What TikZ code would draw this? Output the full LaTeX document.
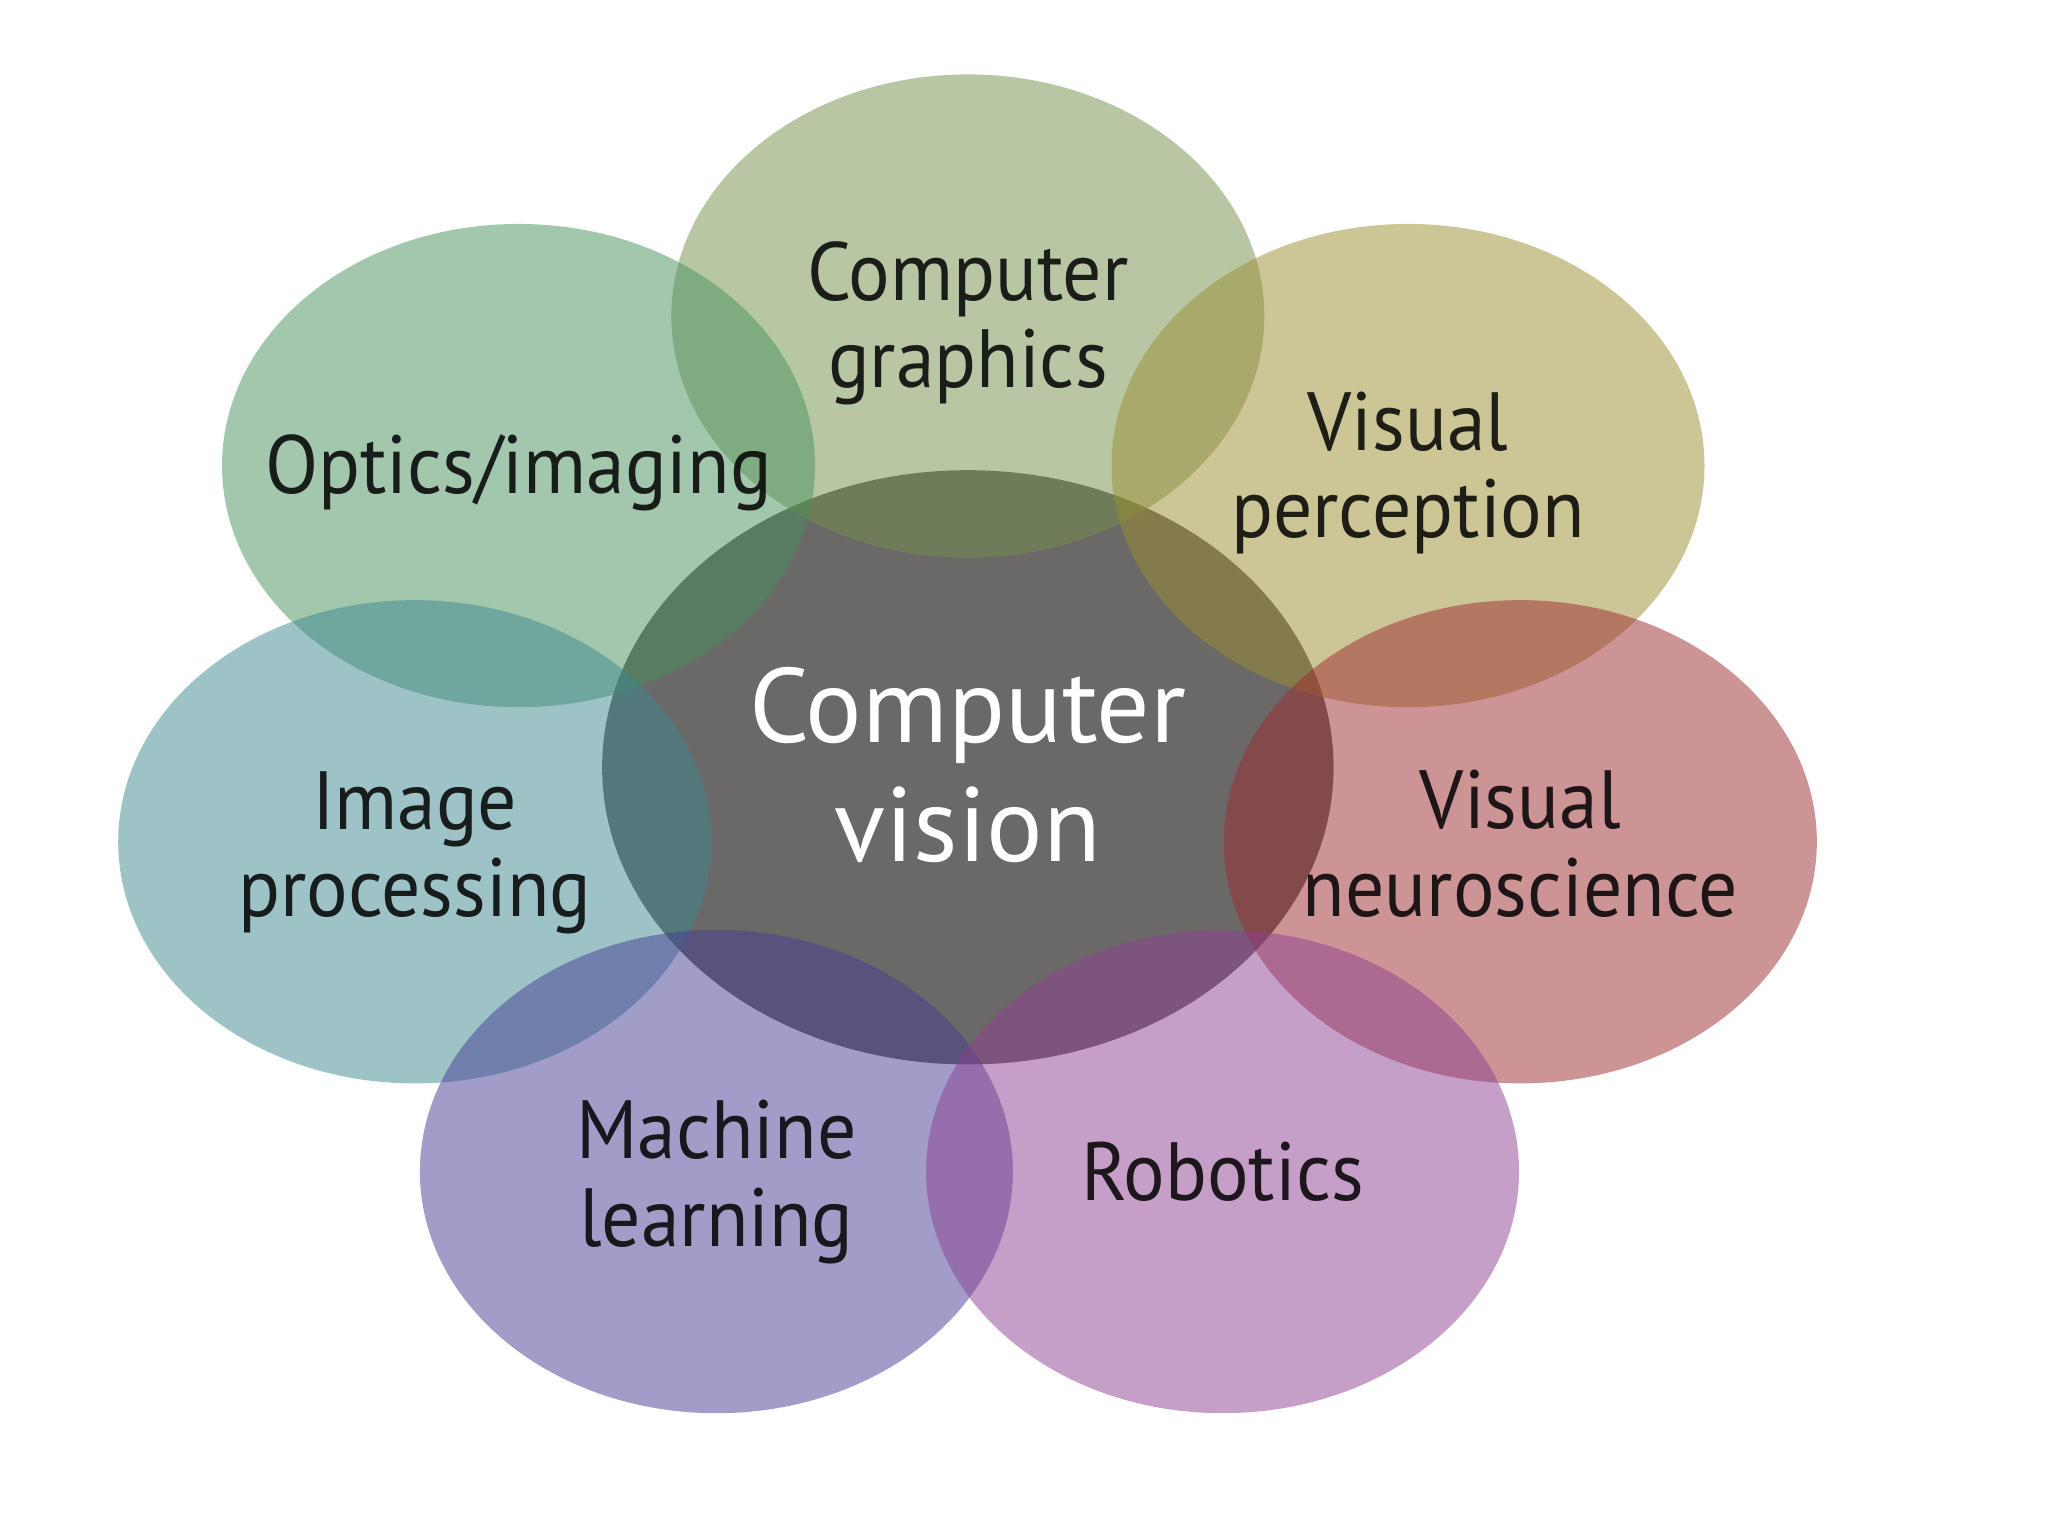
\documentclass[tikz,border=0pt]{standalone}
\usepackage{fontspec}
\setmainfont{PT Sans}[FakeStretch=0.94]
\newfontfamily\hubfont{PT Sans}
\usetikzlibrary{shapes.geometric,calc}

\definecolor{visiongray}{HTML}{6B6868}
\definecolor{graphicscol}{RGB}{113,145,75}
\definecolor{opticscol}{RGB}{71,145,91}
\definecolor{perceptcol}{RGB}{155,143,47}
\definecolor{imgproccol}{RGB}{61,137,145}
\definecolor{neurocol}{RGB}{157,43,47}
\definecolor{learncol}{RGB}{71,61,147}
\definecolor{robotcol}{RGB}{141,65,145}

\tikzset{
  hub/.style={ellipse, draw=none, inner sep=0pt, fill=visiongray,
    minimum width=5.6cm, minimum height=4.55cm},
  bubble/.style={ellipse, draw=none, inner sep=0pt, fill opacity=0.5,
    minimum width=4.54cm, minimum height=3.70cm},
  topic/.style={align=center, inner sep=0pt, text=black, text opacity=0.85,
    font=\fontsize{18}{19}\selectfont},
  hubtext/.style={align=center, inner sep=0pt, text=white,
    font=\hubfont\fontsize{23}{26}\selectfont}
}

\begin{document}
\begin{tikzpicture}

  \fill[white] (0,0) rectangle (15.68,11.76);
  \useasboundingbox (0,0) rectangle (15.68,11.76);

  % central field, opaque
  \node[hub] (vision) at (7.41,5.885) {};

  % surrounding fields, half transparent over it
  \node[bubble, fill=graphicscol] (graphics) at (7.41,9.34) {};
  \node[bubble, fill=opticscol] (optics) at (3.97,8.195) {};
  \node[bubble, fill=perceptcol] (percept) at (10.78,8.195) {};
  \node[bubble, fill=imgproccol] (imgproc) at (3.175,5.315) {};
  \node[bubble, fill=neurocol] (neuro) at (11.64,5.315) {};
  \node[bubble, fill=learncol] (learn) at (5.485,2.79) {};
  \node[bubble, fill=robotcol] (robot) at (9.36,2.79) {};

  % labels on top of everything
  \node[hubtext] (visionlbl) at ($(vision)+(0,0.015)$) {Computer\\vision};
  \node[topic] (graphicslbl) at ($(graphics)+(0,-0.055)$) {Computer\\graphics};
  \node[topic] (opticslbl) at ($(optics)+(0,-0.055)$) {Optics/imaging};
  \node[topic] (perceptlbl) at ($(percept)+(0,-0.055)$) {Visual\\perception};
  \node[topic] (imgproclbl) at ($(imgproc)+(0,-0.085)$) {Image\\processing};
  \node[topic] (neurolbl) at ($(neuro)+(0,-0.015)$) {Visual\\neuroscience};
  \node[topic] (learnlbl) at ($(learn)+(0,-0.08)$) {Machine\\learning};
  \node[topic] (robotlbl) at (robot) {Robotics};

\end{tikzpicture}
\end{document}
